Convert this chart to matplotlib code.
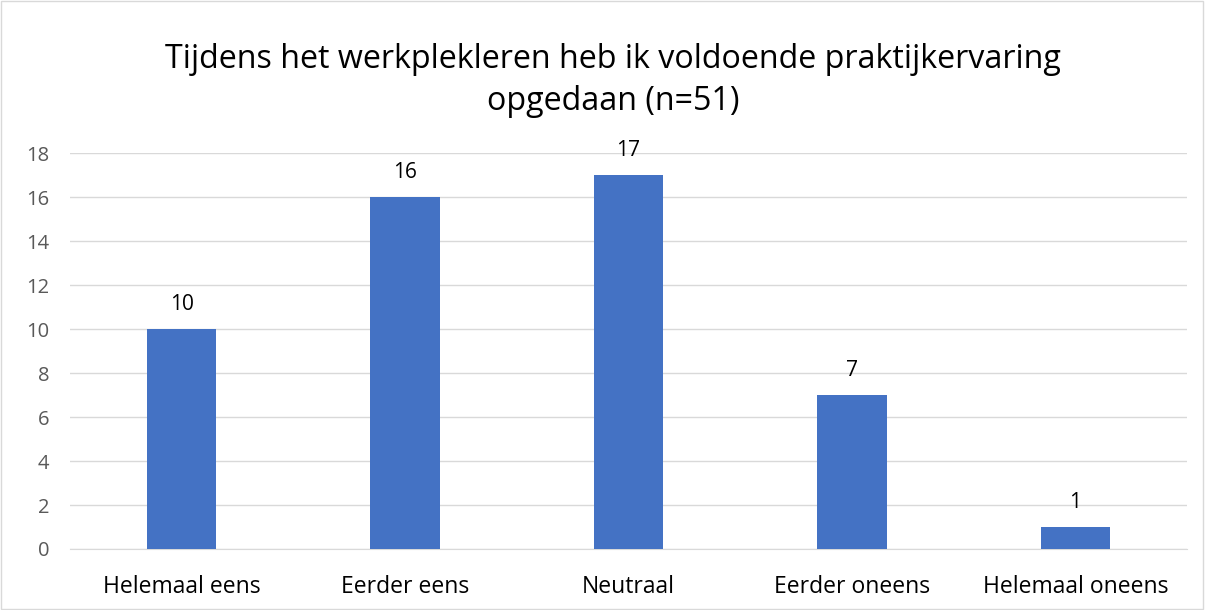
import matplotlib.pyplot as plt
from matplotlib.patches import Rectangle

categories = ['Helemaal eens', 'Eerder eens', 'Neutraal', 'Eerder oneens', 'Helemaal oneens']
counts = [10, 16, 17, 7, 1]
yticks = [0, 2, 4, 6, 8, 10, 12, 14, 16, 18]
title = 'Tijdens het werkplekleren heb ik voldoende praktijkervaring\nopgedaan (n=51)'

plt.rcParams['font.family'] = ['Open Sans', 'DejaVu Sans']

fig = plt.figure(figsize=(12.05, 6.1), dpi=100)
ax = fig.add_axes([0.0581, 0.1, 0.927, 0.649])

x = range(len(categories))
bars = ax.bar(x, counts, width=0.31, color='#4472C4', zorder=3)
for b, v in zip(bars, counts):
    ax.text(b.get_x() + b.get_width() / 2, v + 0.86, str(v), ha='center', va='baseline',
            fontsize=15, color='#000000')

ax.set_xlim(-0.5, len(categories) - 0.5)
ax.set_ylim(0, 18)
ax.set_yticks(yticks)
ax.set_xticks(list(x))
ax.set_xticklabels(categories, fontsize=16.5)
ax.tick_params(axis='y', labelsize=14.5, length=0, pad=15, colors='#595959')
ax.tick_params(axis='x', length=0, pad=19, labelcolor='#000000')
ax.grid(axis='y', color='#D9D9D9', linewidth=1, zorder=0)
for s in ['top', 'right', 'left']:
    ax.spines[s].set_visible(False)
ax.spines['bottom'].set_color('#D9D9D9')

fig.text(0.509, 0.868, title, ha='center', va='center', fontsize=23.2, linespacing=1.36)

fig.patches.append(Rectangle((0.001, 0.002), 0.997, 0.996, transform=fig.transFigure,
                             fill=False, edgecolor='#D9D9D9', linewidth=1))

fig.savefig('out.png', dpi=100)
